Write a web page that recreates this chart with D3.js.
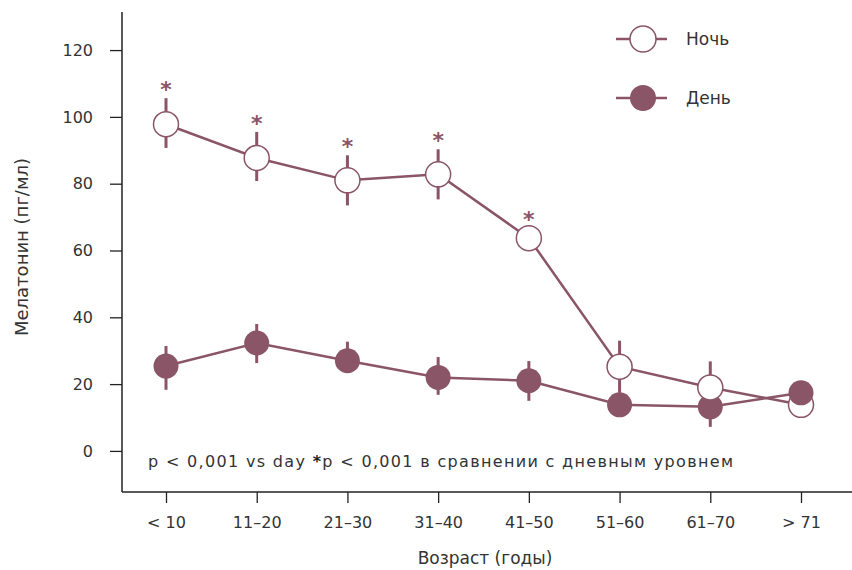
<!DOCTYPE html>
<html>
<head>
<meta charset="utf-8">
<script src="https://cdn.jsdelivr.net/npm/d3@7"></script>
<style>
  body { margin: 0; background: #fff; }
  text { font-family: "DejaVu Sans", sans-serif; fill: #333; }
</style>
</head>
<body>
<div id="chart"></div>
<script>
const categories = ['< 10', '11–20', '21–30', '31–40', '41–50', '51–60', '61–70', '> 71']
const nightValues = [97.8, 87.7, 81, 82.8, 63.7, 25.2, 19, 13.8]
const nightErrUp = [7.8, 7.8, 7.5, 7.5, 3, 7.8, 7.8, 3]
const nightErrDown = [7.1, 6.9, 7.5, 7.5, 3, 7.8, 7.8, 3]
const dayValues = [25.4, 32.3, 27, 22, 21, 13.8, 13.2, 17.4]
const dayErrUp = [6, 5.7, 5.7, 6.1, 5.9, 3, 6, 3]
const dayErrDown = [7.1, 6, 3, 5.2, 6, 3, 6, 3]
const significant = [true, true, true, true, true, false, false, false]
const yTicks = [0, 20, 40, 60, 80, 100, 120]

const W = 852, H = 570
const color = '#8a5566'
const font = '"DejaVu Sans", sans-serif'
const axisLeftX = 122, axisBottomY = 492, axisTopY = 12

const svg = d3.select('#chart')
    .append('svg')
    .attr('width', W)
    .attr('height', H)

const x = d3.scalePoint()
    .domain(categories)
    .range([166, 801])

const y = d3.scaleLinear()
    .domain([-12.3, 131.4])
    .range([axisBottomY, axisTopY])

// axes
const leftAxis = d3.axisLeft(y).tickValues(yTicks).tickSize(12).tickSizeOuter(0).tickPadding(17)
const gy = svg.append('g')
    .attr('transform', `translate(${axisLeftX},0)`)
    .call(leftAxis)
gy.select('.domain').remove()
gy.selectAll('line').attr('stroke', '#222').attr('stroke-width', 1.3)
gy.selectAll('text').attr('font-size', 16).attr('fill', '#333').attr('font-family', font)

const bottomAxis = d3.axisBottom(x).tickSize(11).tickSizeOuter(0).tickPadding(14)
const gx = svg.append('g')
    .attr('transform', `translate(0,${axisBottomY})`)
    .call(bottomAxis)
gx.select('.domain').remove()
gx.selectAll('line').attr('stroke', '#222').attr('stroke-width', 1.3)
gx.selectAll('text').attr('font-size', 16).attr('fill', '#333').attr('font-family', font)

svg.append('line')
    .attr('x1', axisLeftX).attr('x2', axisLeftX)
    .attr('y1', axisTopY).attr('y2', axisBottomY)
    .attr('stroke', '#222').attr('stroke-width', 1.5)
svg.append('line')
    .attr('x1', axisLeftX).attr('x2', W)
    .attr('y1', axisBottomY).attr('y2', axisBottomY)
    .attr('stroke', '#222').attr('stroke-width', 1.5)

// axis titles
svg.append('text')
    .attr('x', 485).attr('y', 564)
    .attr('text-anchor', 'middle')
    .attr('font-size', 17)
    .text('Возраст (годы)')

svg.append('text')
    .attr('transform', 'translate(28,247) rotate(-90)')
    .attr('text-anchor', 'middle')
    .attr('font-size', 18)
    .text('Мелатонин (пг/мл)')

// annotation
const note = svg.append('text')
    .attr('x', 148).attr('y', 467)
    .attr('font-size', 16)
    .attr('textLength', 585)
    .attr('lengthAdjust', 'spacing')
note.append('tspan').text('p < 0,001 vs day ')
note.append('tspan').attr('font-weight', 'bold').style('fill', '#222').text('*')
note.append('tspan').text('p < 0,001 в сравнении с дневным уровнем')

const night = categories.map((c, i) => ({cat: c, v: nightValues[i], up: nightErrUp[i], down: nightErrDown[i], open: true, sig: significant[i]}))
const day = categories.map((c, i) => ({cat: c, v: dayValues[i], up: dayErrUp[i], down: dayErrDown[i], open: false}))

const line = d3.line().x(d => x(d.cat)).y(d => y(d.v))

svg.selectAll('path.series')
    .data([night, day])
    .enter()
    .append('path')
    .attr('class', 'series')
    .attr('d', line)
    .attr('fill', 'none')
    .attr('stroke', color)
    .attr('stroke-width', 2.5)

const all = night.concat(day)

svg.selectAll('line.err')
    .data(all)
    .enter()
    .append('line')
    .attr('class', 'err')
    .attr('x1', d => x(d.cat)).attr('x2', d => x(d.cat))
    .attr('y1', d => y(d.v + d.up))
    .attr('y2', d => y(d.v - d.down))
    .attr('stroke', color)
    .attr('stroke-width', 3)

// higher value drawn on top within each age group
const ordered = all.slice().sort((a, b) => a.v - b.v)

svg.selectAll('circle.pt')
    .data(ordered)
    .enter()
    .append('circle')
    .attr('class', 'pt')
    .attr('cx', d => x(d.cat))
    .attr('cy', d => y(d.v))
    .attr('r', 12.5)
    .attr('fill', d => d.open ? '#fff' : color)
    .attr('stroke', color)
    .attr('stroke-width', d => d.open ? 1.5 : 0)

svg.selectAll('text.star')
    .data(night.filter(d => d.sig))
    .enter()
    .append('text')
    .attr('class', 'star')
    .attr('x', d => x(d.cat))
    .attr('y', d => y(d.v + d.up) - 1)
    .attr('text-anchor', 'middle')
    .attr('font-size', 22)
    .attr('font-weight', 'bold')
    .style('fill', color)
    .text('*')

// legend
const legend = [{label: 'Ночь', open: true, y: 39}, {label: 'День', open: false, y: 98}]
const lg = svg.selectAll('g.legend')
    .data(legend)
    .enter()
    .append('g')
    .attr('class', 'legend')
    .attr('transform', d => `translate(0,${d.y})`)
lg.append('line')
    .attr('x1', 616).attr('x2', 667)
    .attr('stroke', color).attr('stroke-width', 2.5)
lg.append('circle')
    .attr('cx', 643).attr('r', 13)
    .attr('fill', d => d.open ? '#fff' : color)
    .attr('stroke', color)
    .attr('stroke-width', d => d.open ? 1.5 : 0)
lg.append('text')
    .attr('x', 686).attr('y', 6)
    .attr('font-size', 17)
    .text(d => d.label)
</script>
</body>
</html>
